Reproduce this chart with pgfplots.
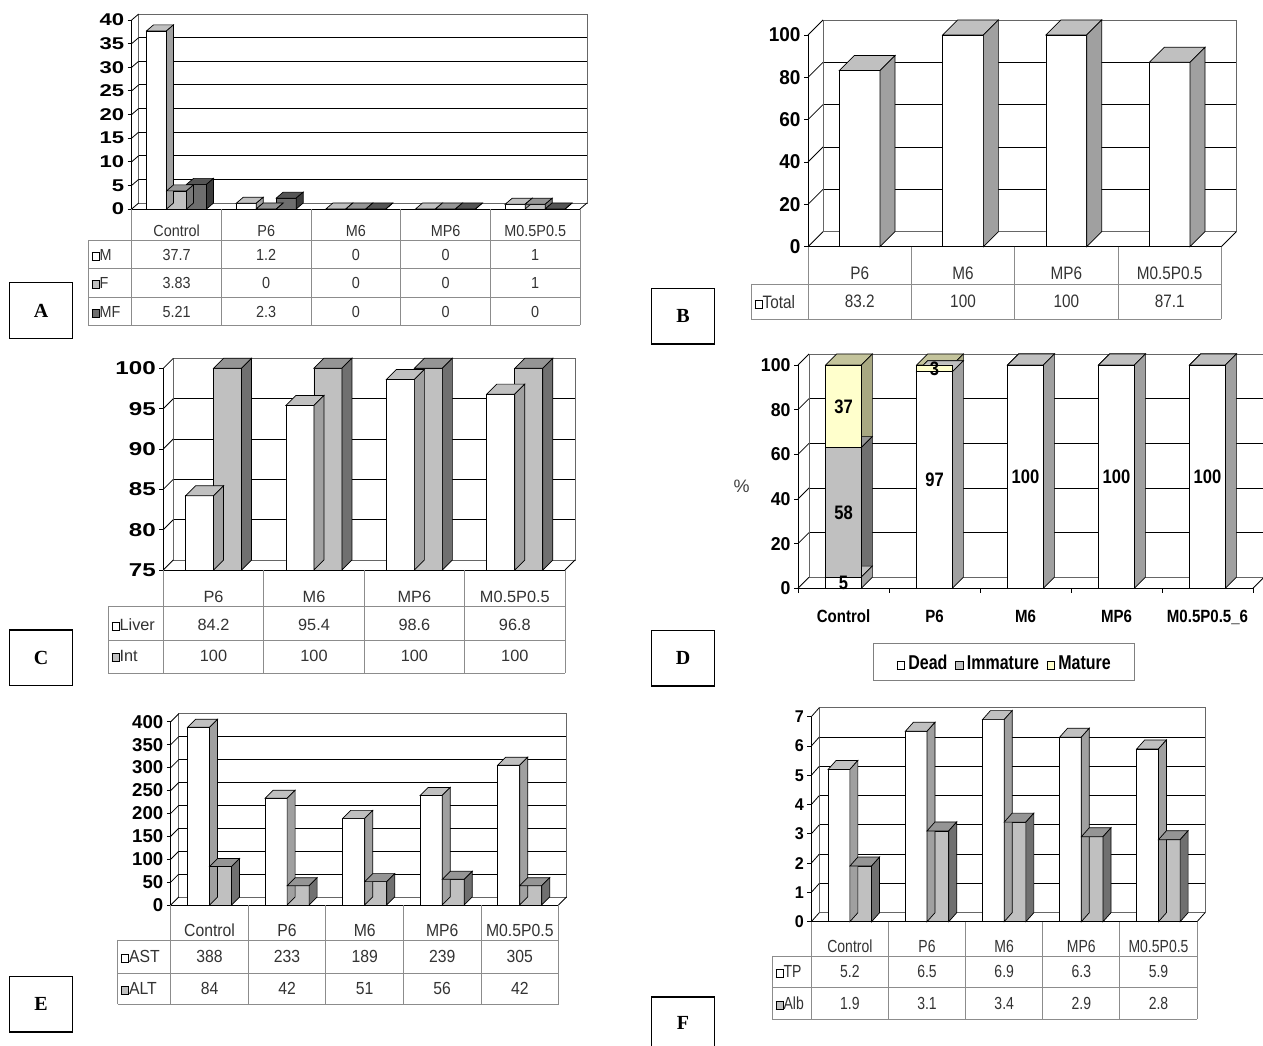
\documentclass[border=0pt]{standalone}
\usepackage{fontspec}
\setmainfont{Liberation Sans}
\newfontfamily\fnorm{Liberation Sans}
\newfontfamily\fwide[FakeStretch=1.3]{Liberation Sans}
\newfontfamily\fsa[FakeStretch=0.95]{Liberation Sans}
\newfontfamily\fsb[FakeStretch=0.9]{Liberation Sans}
\newfontfamily\fsc[FakeStretch=0.85]{Liberation Sans}
\newfontfamily\fsd[FakeStretch=0.8]{Liberation Sans}
\newfontfamily\fserif{Liberation Serif}
\usepackage{pgfplots}
\pgfplotsset{compat=1.18}

\newcommand{\fsz}[1]{\fontsize{#1}{#1}\selectfont}
\newcommand{\swatch}[1]{{\setlength{\fboxsep}{0pt}\setlength{\fboxrule}{0.8pt}\raisebox{0.5pt}{\fcolorbox{black}{#1}{\rule{0pt}{7pt}\rule{6.5pt}{0pt}}}}}

\definecolor{topW}{HTML}{C0C0C0}
\definecolor{sideW}{HTML}{A0A0A0}
\definecolor{frontG}{HTML}{C0C0C0}
\definecolor{topG}{HTML}{959595}
\definecolor{sideG}{HTML}{787878}
\definecolor{sideI}{HTML}{707070}
\definecolor{frontK}{HTML}{6E6E6E}
\definecolor{topK}{HTML}{555555}
\definecolor{sideK}{HTML}{3C3C3C}
\definecolor{frontY}{HTML}{FFFFCC}
\definecolor{topY}{HTML}{C4C49C}
\definecolor{sideY}{HTML}{A8A882}

% parameters of the 3D decoration (top face + side face) of a bar
\pgfkeys{/td/.cd,
 s/.store in=\tds, w/.store in=\tdw, dx/.store in=\tddx, dy/.store in=\tddy,
 k/.store in=\tdk, base/.store in=\tdbase, top/.store in=\tdtopc, side/.store in=\tdsidec,
 skip/.store in=\tdskip,
 s=0pt, w=10pt, dx=5pt, dy=5pt, k=1, base=0, top=gray, side=gray, skip=0}

\pgfdeclareplotmark{td3}{%
 \pgfmathtruncatemacro\tdzero{(\tdskip==1)*(abs(\ry)<0.000001)}%
 \ifnum\tdzero=0
 \pgfmathsetlengthmacro\tdh{(\ry-\tdbase)*\tdk}%
 \pgfmathsetlengthmacro\tdL{\tds-0.5*\tdw}%
 \pgfmathsetlengthmacro\tdR{\tds+0.5*\tdw}%
 \pgfmathsetlengthmacro\tdLL{\tdL+\tddx}%
 \pgfmathsetlengthmacro\tdRR{\tdR+\tddx}%
 \pgfmathsetlengthmacro\tdB{\tddy-\tdh}%
 \pgfmathsetlengthmacro\tdmh{-\tdh}%
 \pgfsetlinewidth{0.7pt}\pgfsetstrokecolor{black}%
 \pgfsetfillcolor{\tdtopc}%
 \pgfpathmoveto{\pgfqpoint{\tdL}{0pt}}%
 \pgfpathlineto{\pgfqpoint{\tdLL}{\tddy}}%
 \pgfpathlineto{\pgfqpoint{\tdRR}{\tddy}}%
 \pgfpathlineto{\pgfqpoint{\tdR}{0pt}}%
 \pgfpathclose
 \pgfusepath{fill,stroke}%
 \pgfsetfillcolor{\tdsidec}%
 \pgfpathmoveto{\pgfqpoint{\tdR}{0pt}}%
 \pgfpathlineto{\pgfqpoint{\tdRR}{\tddy}}%
 \pgfpathlineto{\pgfqpoint{\tdRR}{\tdB}}%
 \pgfpathlineto{\pgfqpoint{\tdR}{\tdmh}}%
 \pgfpathclose
 \pgfusepath{fill,stroke}%
 \fi
}

% #1 shift, #2 width, #3 top colour, #4 side colour, #5 coords
\newcommand{\tddeco}[5]{%
 \addplot[scatter, only marks, mark=td3, /td/s=#1, /td/w=#2, /td/top=#3, /td/side=#4,
   visualization depends on={rawy \as \ry},
   scatter/@pre marker code/.code={}, scatter/@post marker code/.code={}] coordinates {#5};
}
% #1 shift, #2 width, #3 top, #4 side, #5 front, #6 coords
\newcommand{\tdbar}[6]{%
 \tddeco{#1}{#2}{#3}{#4}{#6}
 \addplot[ybar, bar width=#2, bar shift=#1, fill=#5, draw=black, line width=0.7pt] coordinates {#6};
}
% #1 dx, #2 dy, #3 intervals
\newcommand{\frameD}[3]{%
 \draw[black!60, line width=0.8pt] ([shift={(#1,#2)}]rel axis cs:0,0) rectangle ([shift={(#1,#2)}]rel axis cs:1,1);
 \draw[black, line width=0.8pt] (rel axis cs:1,0) -- ++(#1,#2);
 \pgfplotsinvokeforeach{0,...,#3}{\draw[black, line width=0.8pt] (rel axis cs:0,##1/#3) -- ++(#1,#2);}
}

\pgfplotsset{
 p3d/.style={scale only axis, clip=false, anchor=south west,
   axis lines*=left, axis line style={black, line width=0.8pt, -},
   tick align=outside, major tick length=4pt, ytick style={black, line width=0.8pt},
   xtick=\empty, xmin=-0.5, enlargelimits=false, ymajorgrids,
   /pgf/number format/assume math mode=true},
}

\tikzset{
 tabline/.style={draw=black!45, line width=0.9pt},
 tA/.style={font=\fsb\fsz{16}, text=black!80, inner sep=1pt},
 tB/.style={font=\fsc\fsz{18}, text=black!80, inner sep=1pt},
 tC/.style={font=\fnorm\fsz{16.3}, text=black!80, inner sep=1pt},
 tE/.style={font=\fsb\fsz{17.5}, text=black!80, inner sep=1pt},
 tF/.style={font=\fsd\fsz{17.5}, text=black!80, inner sep=1pt},
 lett/.style={draw=black, line width=1.4pt, minimum width=63pt, minimum height=55.6pt, inner sep=0pt, font=\fserif\bfseries\fsz{20}},
}

\begin{document}
\begin{tikzpicture}
\path[use as bounding box] (0,0) rectangle (1263pt,1046pt);
\clip (0,0) rectangle (1263pt,1046pt);
\fill[white] (0,0) rectangle (1263pt,1046pt);

% ---------------- A ----------------
\begin{axis}[p3d, at={(131.7pt,837pt)}, width=448.3pt, height=189pt,
  xmax=4.5, ymin=0, ymax=40, ytick={0,5,...,40},
  yticklabel style={font=\fwide\bfseries\fsz{17}},
  major grid style={black, line width=0.9pt, xshift=7pt, yshift=6pt},
  /td/dx=7pt, /td/dy=6pt, /td/k=4.725]
 \frameD{7pt}{6pt}{8}
 \tdbar{-20pt}{20pt}{topW}{sideW}{white}{(0,37.7) (1,1.2) (2,0) (3,0) (4,1)}
 \tdbar{0pt}{20pt}{topG}{sideG}{frontG}{(0,3.83) (1,0) (2,0) (3,0) (4,1)}
 \tdbar{20pt}{20pt}{topK}{sideK}{frontK}{(0,5.21) (1,2.3) (2,0) (3,0) (4,0)}
\end{axis}

% ---------------- B ----------------
\begin{axis}[p3d, at={(808pt,799.3pt)}, width=413.3pt, height=211.7pt,
  xmax=3.5, ymin=0, ymax=100, ytick={0,20,...,100},
  yticklabel style={font=\fsa\bfseries\fsz{20}},
  major grid style={black, line width=0.9pt, xshift=15pt, yshift=15pt},
  /td/dx=15pt, /td/dy=15pt, /td/k=2.117]
 \frameD{15pt}{15pt}{5}
 \tdbar{0pt}{40.7pt}{topW}{sideW}{white}{(0,83.2) (1,100) (2,100) (3,87.1)}
\end{axis}

% ---------------- C ----------------
\begin{axis}[p3d, at={(163.3pt,476pt)}, width=401.7pt, height=201.7pt,
  xmax=3.5, ymin=0, ymax=25, y filter/.expression={y-75},
  ytick={0,5,...,25}, yticklabels={75,80,85,90,95,100},
  yticklabel style={font=\fwide\bfseries\fsz{18.6}},
  major grid style={black, line width=0.9pt, xshift=10pt, yshift=10pt},
  /td/dx=10pt, /td/dy=10pt, /td/k=8.068, /td/base=75]
 \frameD{10pt}{10pt}{5}
 \tdbar{-14pt}{28pt}{topW}{sideW}{white}{(0,84.2) (1,95.4) (2,98.6) (3,96.8)}
 \tdbar{14pt}{28pt}{topG}{sideI}{frontG}{(0,100) (1,100) (2,100) (3,100)}
\end{axis}

% ---------------- D ----------------
\begin{axis}[p3d, at={(798pt,457.7pt)}, width=455pt, height=223.3pt,
  xmax=4.5, ymin=0, ymax=100, ytick={0,20,...,100},
  yticklabel style={font=\fsa\bfseries\fsz{18.6}},
  xtick={0,...,4}, xticklabels={Control,P6,M6,MP6,M0.5P0.5\_6},
  xtick style={draw=none},
  xticklabel style={font=\fsc\bfseries\fsz{17.7}, yshift=-14pt},
  major grid style={black, line width=0.9pt, xshift=11pt, yshift=11pt}]
 \frameD{11pt}{11pt}{5}
 \pgfplotsinvokeforeach{-0.5,0.5,1.5,2.5,3.5,4.5}{\draw[black, line width=0.8pt] (axis cs:#1,0) -- ++(0pt,-5pt);}
\end{axis}
\begin{axis}[p3d, hide axis, at={(798pt,457.7pt)}, width=455pt, height=223.3pt,
  xmax=4.5, ymin=0, ymax=100, stack plots=y,
  /td/dx=11pt, /td/dy=11pt, /td/k=2.233, /td/skip=1]
 \tddeco{0pt}{35.7pt}{topW}{sideW}{(0,5) (1,97) (2,100) (3,100) (4,100)}
 \tddeco{0pt}{35.7pt}{topG}{sideI}{(0,58) (1,0) (2,0) (3,0) (4,0)}
 \tddeco{0pt}{35.7pt}{topY}{sideY}{(0,37) (1,3) (2,0) (3,0) (4,0)}
\end{axis}
\begin{axis}[p3d, hide axis, at={(798pt,457.7pt)}, width=455pt, height=223.3pt,
  xmax=4.5, ymin=0, ymax=100, ybar stacked, bar width=35.7pt]
 \addplot[fill=white, draw=black, line width=0.7pt] coordinates {(0,5) (1,97) (2,100) (3,100) (4,100)};
 \addplot[fill=frontG, draw=black, line width=0.7pt] coordinates {(0,58) (1,0) (2,0) (3,0) (4,0)};
 \addplot[fill=frontY, draw=black, line width=0.7pt] coordinates {(0,37) (1,3) (2,0) (3,0) (4,0)};
\end{axis}
\begin{axis}[p3d, hide axis, at={(798pt,457.7pt)}, width=455pt, height=223.3pt,
  xmax=4.5, ymin=0, ymax=100]
 \addplot[draw=none, mark=none, nodes near coords, point meta=explicit symbolic,
   nodes near coords align=center,
   every node near coord/.style={anchor=center, font=\fsc\bfseries\fsz{19.5}, text=black}]
   coordinates {(0,2.5)[5] (0,34)[58] (0,81.5)[37] (1,48.5)[97] (1,98.5)[3] (2,50)[100] (3,50)[100] (4,50)[100]};
\end{axis}

% ---------------- E ----------------
\begin{axis}[p3d, at={(170.8pt,141pt)}, width=387.7pt, height=183.3pt,
  xmax=4.5, ymin=0, ymax=400, ytick={0,50,...,400},
  yticklabel style={font=\fnorm\bfseries\fsz{18.6}},
  major grid style={black, line width=0.9pt, xshift=8pt, yshift=8pt},
  /td/dx=8pt, /td/dy=8pt, /td/k=0.45825]
 \frameD{8pt}{8pt}{8}
 \tdbar{-11pt}{22pt}{topW}{sideW}{white}{(0,388) (1,233) (2,189) (3,239) (4,305)}
 \tdbar{11pt}{22pt}{topG}{sideI}{frontG}{(0,84) (1,42) (2,51) (3,56) (4,42)}
\end{axis}

% ---------------- F ----------------
\begin{axis}[p3d, at={(811.3pt,124.3pt)}, width=385.7pt, height=205pt,
  xmax=4.5, ymin=0, ymax=7, ytick={0,...,7},
  yticklabel style={font=\fsa\bfseries\fsz{17}},
  major grid style={black, line width=0.9pt, xshift=8pt, yshift=9pt},
  /td/dx=8pt, /td/dy=9pt, /td/k=29.286]
 \frameD{8pt}{9pt}{7}
 \tdbar{-10.85pt}{21.7pt}{topW}{sideW}{white}{(0,5.2) (1,6.5) (2,6.9) (3,6.3) (4,5.9)}
 \tdbar{10.85pt}{21.7pt}{topG}{sideI}{frontG}{(0,1.9) (1,3.1) (2,3.4) (3,2.9) (4,2.8)}
\end{axis}

\begin{scope}[x=1pt,y=1pt]
% ---- table A
\foreach \x in {131.7,221.4,311.0,400.7,490.4,580} \draw[tabline] (\x,837) -- (\x,721);
\draw[tabline] (88.3,805.3) -- (88.3,721);
\foreach \y in {805.3,777.7,748.7,721} \draw[tabline] (88.3,\y) -- (580,\y);
\foreach \x/\t in {176.6/Control,266.2/P6,355.9/M6,445.6/MP6,535.2/M0.5P0.5} \node[tA] at (\x,815) {\t};
\foreach \x/\a/\b/\c in {176.6/37.7/3.83/5.21,266.2/1.2/0/2.3,355.9/0/0/0,445.6/0/0/0,535.2/1/1/0}
  {\node[tA] at (\x,791) {\a}; \node[tA] at (\x,762.7) {\b}; \node[tA] at (\x,734.3) {\c};}
\node[tA, anchor=west] at (90.3,791) {\swatch{white}M};
\node[tA, anchor=west] at (90.3,762.7) {\swatch{frontG}F};
\node[tA, anchor=west] at (90.3,734.3) {\swatch{frontK}MF};

% ---- table B
\foreach \x in {808,911.3,1014.7,1118,1221.3} \draw[tabline] (\x,799.3) -- (\x,726.7);
\draw[tabline] (751.3,762) -- (751.3,726.7);
\foreach \y in {762,726.7} \draw[tabline] (751.3,\y) -- (1221.3,\y);
\foreach \x/\t/\v in {859.7/P6/83.2,963/M6/100,1066.3/MP6/100,1169.7/M0.5P0.5/87.1}
  {\node[tB] at (\x,772.7) {\t}; \node[tB] at (\x,744.3) {\v};}
\node[tB, anchor=west] at (753.3,744.3) {\swatch{white}Total};

% ---- table C
\foreach \x in {163.3,263.7,364.2,464.6,565} \draw[tabline] (\x,476) -- (\x,372.7);
\draw[tabline] (108.3,439.3) -- (108.3,372.7);
\foreach \y in {439.3,406,372.7} \draw[tabline] (108.3,\y) -- (565,\y);
\foreach \x/\t/\a in {213.5/P6/84.2,314/M6/95.4,414.4/MP6/98.6,514.8/M0.5P0.5/96.8}
  {\node[tC] at (\x,449.3) {\t}; \node[tC] at (\x,421) {\a}; \node[tC] at (\x,390) {100};}
\node[tC, anchor=west] at (110.3,421) {\swatch{white}Liver};
\node[tC, anchor=west] at (110.3,390) {\swatch{frontG}Int};

% ---- D extras
\node[font=\fnorm\fsz{18}, text=black!75] at (741.7,559.3) {\%};
\node[draw=black!50, line width=0.9pt, minimum width=261.7pt, minimum height=37.4pt, inner sep=0pt,
  font=\fsd\bfseries\fsz{20}] at (1003.85,384)
  {\swatch{white}\,Dead\hspace{8pt}\swatch{frontG}\,Immature\hspace{8pt}\swatch{frontY}\,Mature};

% ---- table E
\foreach \x in {170.8,248.3,325.9,403.4,481,558.5} \draw[tabline] (\x,141) -- (\x,42);
\draw[tabline] (117.7,106) -- (117.7,42);
\foreach \y in {106,72.7,42} \draw[tabline] (117.7,\y) -- (558.5,\y);
\foreach \x/\t/\a/\b in {209.6/Control/388/84,287.1/P6/233/42,364.7/M6/189/51,442.2/MP6/239/56,519.8/M0.5P0.5/305/42}
  {\node[tE] at (\x,115.3) {\t}; \node[tE] at (\x,89.3) {\a}; \node[tE] at (\x,57.7) {\b};}
\node[tE, anchor=west] at (119.7,89.3) {\swatch{white}AST};
\node[tE, anchor=west] at (119.7,57.7) {\swatch{frontG}ALT};

% ---- table F
\foreach \x in {811.3,888.4,965.6,1042.7,1119.9,1197} \draw[tabline] (\x,124.3) -- (\x,26.7);
\draw[tabline] (772.3,90) -- (772.3,26.7);
\foreach \y in {90,58.7,26.7} \draw[tabline] (772.3,\y) -- (1197,\y);
\foreach \x/\t/\a/\b in {849.9/Control/5.2/1.9,927/P6/6.5/3.1,1004.2/M6/6.9/3.4,1081.3/MP6/6.3/2.9,1158.5/M0.5P0.5/5.9/2.8}
  {\node[tF] at (\x,99.3) {\t}; \node[tF] at (\x,74.3) {\a}; \node[tF] at (\x,42.7) {\b};}
\node[tF, anchor=west] at (774.3,74.3) {\swatch{white}TP};
\node[tF, anchor=west] at (774.3,42.7) {\swatch{frontG}Alb};

% ---- letter boxes
\node[lett] at (41,735.5) {A};
\node[lett] at (683,729.8) {B};
\node[lett] at (41,388) {C};
\node[lett] at (683,387.7) {D};
\node[lett] at (41,41.8) {E};
\draw[black, line width=1.4pt] (651.7,-6) rectangle (714.3,49);
\node[font=\fserif\bfseries\fsz{20}] at (683,23) {F};
\end{scope}
\end{tikzpicture}
\end{document}
